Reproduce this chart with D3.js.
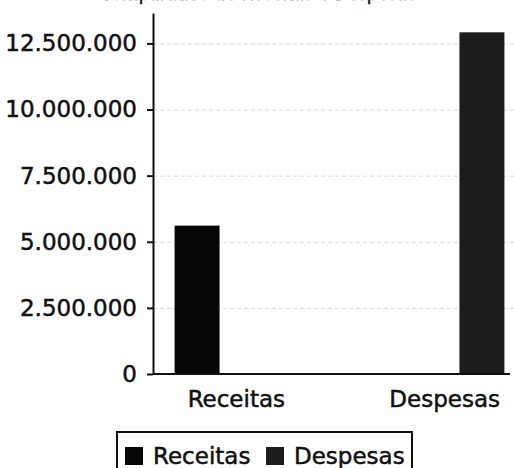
<!DOCTYPE html>
<head>
  <meta charset="utf-8">
  <script src="https://d3js.org/d3.v7.min.js"></script>
  <style>
    body{ margin: 0; background: #fff; }
    text{
      font-family: "DejaVu Sans", sans-serif;
      font-size: 23px;
      fill: #111;
      stroke: #111;
      stroke-width: 0.5px;
    }
    text.title{ font-size: 17px; }
    .grid line{
      stroke: #d8d8d8;
      stroke-dasharray: 4,3;
    }
    .grid path.domain{ display: none; }
    .yAxis path.domain, .yAxis .tick line{
      stroke: #111;
      stroke-width: 2;
    }
  </style>
</head>

<body>
  <script>
    var width = 514;
    var height = 468;

    // data
    const categories = ['Receitas', 'Despesas'];
    const seriesNames = ['Receitas', 'Despesas'];
    const receitasValues = [5610000, 0];
    const despesasValues = [0, 12920000];
    const yTicks = [0, 2500000, 5000000, 7500000, 10000000, 12500000];
    const seriesColours = ['#060606', '#1c1c1c'];

    const margin = {top: 13, right: 0, bottom: 94, left: 153};

    var svg = d3.select("body").append("svg")
      .attr("width", width)
      .attr("height", height);

    // title, mostly cropped in the original picture
    svg.append('text')
      .attr('class', 'title')
      .attr('x', 258)
      .attr('y', 0)
      .style('text-anchor', 'middle')
      .text('Comparativo de Receitas e Despesas');

    let rows = categories.map((c, i) => ({
      category: c,
      values: [receitasValues[i], despesasValues[i]]
    }));

    let y = d3.scaleLinear()
      .domain([0, 13650000])
      .range([height - margin.bottom, margin.top]);

    // groups of bars
    let x0 = d3.scaleBand()
      .domain(categories)
      .range([margin.left, 526])
      .paddingInner(0.625)
      .paddingOuter(0.09);

    let x1 = d3.scaleBand()
      .domain(seriesNames)
      .range([0, x0.bandwidth()]);

    // category labels sit a bit inward of the groups
    let xLabel = d3.scalePoint()
      .domain(categories)
      .range([margin.left, 528])
      .padding(0.4);

    let fmt = d3.formatLocale({decimal: ',', thousands: '.', grouping: [3], currency: ['R$', '']}).format(',.0f');

    // grid
    svg.append('g')
      .attr('class', 'grid')
      .attr('transform', `translate(${margin.left},0)`)
      .call(d3.axisRight(y).tickValues(yTicks.slice(1)).tickSize(width - margin.left).tickFormat(''));

    // bars
    svg.selectAll('g.group')
      .data(rows)
      .enter()
      .append('g')
      .attr('class', 'group')
      .attr('transform', d => `translate(${x0(d.category)},0)`)
      .selectAll('rect')
      .data(d => d.values.map((v, i) => ({name: seriesNames[i], value: v, i: i})))
      .enter()
      .append('rect')
      .attr('x', d => x1(d.name))
      .attr('width', x1.bandwidth())
      .attr('y', d => y(d.value))
      .attr('height', d => y(0) - y(d.value))
      .style('fill', d => seriesColours[d.i]);

    // y axis
    svg.append('g')
      .attr('class', 'yAxis')
      .attr('transform', `translate(${margin.left},0)`)
      .call(d3.axisLeft(y).tickValues(yTicks).tickSize(6).tickPadding(10).tickSizeOuter(0).tickFormat(fmt))
      .call(g => g.selectAll('text').style('font-size', '23px').style('fill', '#111'));

    // x axis line
    svg.append('line')
      .attr('x1', margin.left)
      .attr('x2', width - 4)
      .attr('y1', y(0))
      .attr('y2', y(0))
      .style('stroke', '#111')
      .style('stroke-width', 2);

    svg.selectAll('text.catLabel')
      .data(categories)
      .enter()
      .append('text')
      .attr('class', 'catLabel')
      .attr('x', d => xLabel(d))
      .attr('y', y(0) + 33)
      .style('text-anchor', 'middle')
      .text(d => d);

    // legend
    let legend = svg.append('g').attr('class', 'legend');
    legend.append('rect')
      .attr('x', 117)
      .attr('y', 432)
      .attr('width', 295)
      .attr('height', 50)
      .style('fill', '#fff')
      .style('stroke', '#111')
      .style('stroke-width', 2);

    let legendX = [125, 266];
    let items = legend.selectAll('g.item')
      .data(seriesNames)
      .enter()
      .append('g')
      .attr('class', 'item')
      .attr('transform', (d, i) => `translate(${legendX[i]},447)`);
    items.append('rect')
      .attr('width', 18)
      .attr('height', 18)
      .style('fill', (d, i) => seriesColours[i]);
    items.append('text')
      .attr('x', 28)
      .attr('y', 17)
      .text(d => d);
  </script>
</body>
